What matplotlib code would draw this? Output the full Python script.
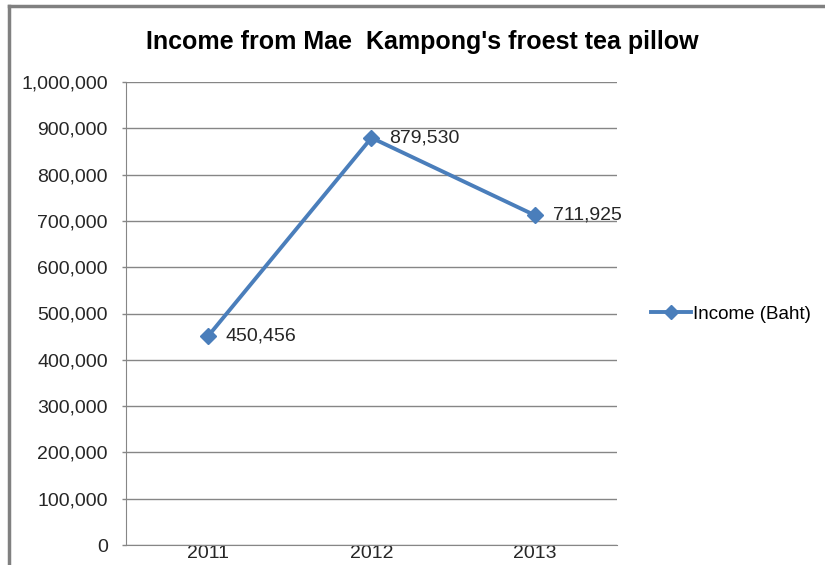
import matplotlib.pyplot as plt
from matplotlib.lines import Line2D
from matplotlib.ticker import FuncFormatter

years = ['2011', '2012', '2013']
income = [450456, 879530, 711925]
y_ticks = list(range(0, 1000001, 100000))

plt.rcParams['font.family'] = ['Liberation Sans', 'DejaVu Sans']

blue = '#4a7ebb'
grid_gray = '#868686'
text_col = '#262626'

fig = plt.figure(figsize=(8.25, 5.65), dpi=100)
ax = fig.add_axes([126 / 825, 1 - 545 / 565, 491 / 825, 463 / 565])

xs = [i + 0.5 for i in range(len(years))]
ax.plot(xs, income, color=blue, lw=2.8, marker='D', markersize=8.5,
        markerfacecolor=blue, markeredgecolor=blue, label='Income (Baht)')

for x, v in zip(xs, income):
    ax.annotate(f'{v:,}', (x, v), xytext=(13, 0), textcoords='offset points',
                va='center', ha='left', fontsize=14, color=text_col)

ax.set_xlim(0, 3)
ax.set_ylim(0, 1000000)
ax.set_yticks(y_ticks)
ax.yaxis.set_major_formatter(FuncFormatter(lambda v, p: f'{int(v):,}'))
ax.set_xticks(xs)
ax.set_xticklabels(years)
ax.tick_params(axis='x', length=0, pad=0, labelsize=14, colors=text_col)
ax.tick_params(axis='y', length=3, width=1, color=grid_gray, labelsize=14,
               labelcolor=text_col, pad=10)
ax.grid(axis='y', color=grid_gray, lw=1)
ax.set_axisbelow(True)
for side in ['top', 'right']:
    ax.spines[side].set_visible(False)
for side in ['left', 'bottom']:
    ax.spines[side].set_color(grid_gray)

fig.text(422 / 825, 1 - 42 / 565, "Income from Mae  Kampong's froest tea pillow",
         ha='center', va='center', fontsize=18, fontweight='bold')

fig.legend(handles=[Line2D([], [], color=blue, lw=2.8, marker='D', markersize=7)],
           labels=['Income (Baht)'], loc='center left',
           bbox_to_anchor=(642 / 825, 1 - 314 / 565), frameon=False,
           fontsize=13.5, handlelength=2.1, handletextpad=0.1, borderpad=0)

# outer chart frame
fig.add_artist(Line2D([9 / 825, 9 / 825], [0, 1 - 6 / 565], color='#808080', lw=2.5,
                      transform=fig.transFigure))
fig.add_artist(Line2D([9 / 825, 1], [1 - 6 / 565, 1 - 6 / 565], color='#808080', lw=2.5,
                      transform=fig.transFigure))

fig.savefig('out.png', dpi=100)
